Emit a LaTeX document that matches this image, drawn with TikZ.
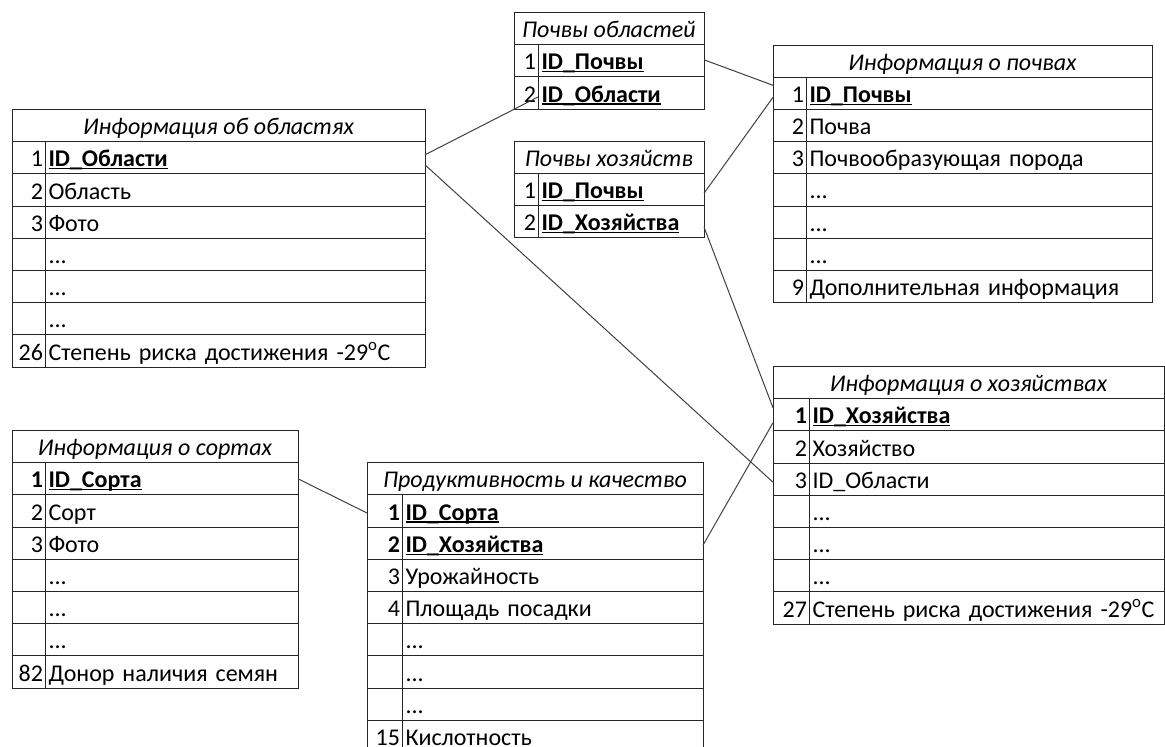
\documentclass[tikz,border=0pt]{standalone}
\usepackage{fontspec}
\setmainfont{Carlito}
\usepackage{tikz}
\newsavebox{\keybox}
\newcommand{\keyfld}[1]{\sbox{\keybox}{\textbf{#1}}\rlap{\rule[-2.6pt]{\wd\keybox}{1.3pt}}\usebox{\keybox}}

\begin{document}
\begin{tikzpicture}[x=1pt,y=-1pt]
	\tikzset{
		cell/.style={draw=black!85,line width=1pt,inner sep=0pt,outer sep=0pt,
			minimum height=32.2pt,text height=19pt,text depth=1pt,anchor=north west,
			font=\fontsize{24}{28}\selectfont},
		hd/.style={cell,minimum width=#1,font=\fontsize{24}{28}\selectfont\itshape},
		nm/.style={cell,text width=#1,align=right,inner xsep=2pt},
		fd/.style={cell,text width=#1,align=left,inner xsep=3.5pt},
		conn/.style={draw=black!75,line width=1pt}
	}
	\useasboundingbox (0,0) rectangle (1165,747);
	\clip (0,0) rectangle (1165,747);
	% Информация об областях
	\node[hd=413] (obl) at (12,109.5) {Информация об областях};
	\node[nm=29] (obl1n) at (12,141.7) {1};
	\node[fd=373] (obl1) at (45,141.7) {\keyfld{ID\_Области}};
	\node[nm=29] (obl2n) at (12,173.9) {2};
	\node[fd=373] (obl2) at (45,173.9) {Область};
	\node[nm=29] (obl3n) at (12,206.1) {3};
	\node[fd=373] (obl3) at (45,206.1) {Фото};
	\node[nm=29] (obl4n) at (12,238.3) {};
	\node[fd=373] (obl4) at (45,238.3) {...};
	\node[nm=29] (obl5n) at (12,270.5) {};
	\node[fd=373] (obl5) at (45,270.5) {...};
	\node[nm=29] (obl6n) at (12,302.7) {};
	\node[fd=373] (obl6) at (45,302.7) {...};
	\node[nm=29] (obl7n) at (12,334.9) {26};
	\node[fd=373] (obl7) at (45,334.9) {Степень риска достижения -29\textsuperscript{o}C};
	% Почвы областей
	\node[hd=190] (pobl) at (514,12.5) {Почвы областей};
	\node[nm=20] (pobl1n) at (514,44.7) {1};
	\node[fd=159] (pobl1) at (538,44.7) {\keyfld{ID\_Почвы}};
	\node[nm=20] (pobl2n) at (514,76.9) {2};
	\node[fd=159] (pobl2) at (538,76.9) {\keyfld{ID\_Области}};
	% Почвы хозяйств
	\node[hd=190] (phoz) at (514,141) {Почвы хозяйств};
	\node[nm=20] (phoz1n) at (514,173.2) {1};
	\node[fd=159] (phoz1) at (538,173.2) {\keyfld{ID\_Почвы}};
	\node[nm=20] (phoz2n) at (514,205.4) {2};
	\node[fd=159] (phoz2) at (538,205.4) {\keyfld{ID\_Хозяйства}};
	% Информация о почвах
	\node[hd=379] (poch) at (773,45) {Информация о почвах};
	\node[nm=29] (poch1n) at (773,77.2) {1};
	\node[fd=339] (poch1) at (806,77.2) {\keyfld{ID\_Почвы}};
	\node[nm=29] (poch2n) at (773,109.4) {2};
	\node[fd=339] (poch2) at (806,109.4) {Почва};
	\node[nm=29] (poch3n) at (773,141.6) {3};
	\node[fd=339] (poch3) at (806,141.6) {Почвообразующая порода};
	\node[nm=29] (poch4n) at (773,173.8) {};
	\node[fd=339] (poch4) at (806,173.8) {...};
	\node[nm=29] (poch5n) at (773,206) {};
	\node[fd=339] (poch5) at (806,206) {...};
	\node[nm=29] (poch6n) at (773,238.2) {};
	\node[fd=339] (poch6) at (806,238.2) {...};
	\node[nm=29] (poch7n) at (773,270.4) {9};
	\node[fd=339] (poch7) at (806,270.4) {Дополнительная информация};
	% Информация о хозяйствах
	\node[hd=391] (hoz) at (773,366.5) {Информация о хозяйствах};
	\node[nm=32] (hoz1n) at (773,398.7) {\textbf{1}};
	\node[fd=348] (hoz1) at (809,398.7) {\keyfld{ID\_Хозяйства}};
	\node[nm=32] (hoz2n) at (773,430.9) {2};
	\node[fd=348] (hoz2) at (809,430.9) {Хозяйство};
	\node[nm=32] (hoz3n) at (773,463.1) {3};
	\node[fd=348] (hoz3) at (809,463.1) {ID\_Области};
	\node[nm=32] (hoz4n) at (773,495.3) {};
	\node[fd=348] (hoz4) at (809,495.3) {...};
	\node[nm=32] (hoz5n) at (773,527.5) {};
	\node[fd=348] (hoz5) at (809,527.5) {...};
	\node[nm=32] (hoz6n) at (773,559.7) {};
	\node[fd=348] (hoz6) at (809,559.7) {...};
	\node[nm=32] (hoz7n) at (773,591.9) {27};
	\node[fd=348] (hoz7) at (809,591.9) {Степень риска достижения -29\textsuperscript{o}C};
	% Информация о сортах
	\node[hd=286] (sort) at (12,430.5) {Информация о сортах};
	\node[nm=29] (sort1n) at (12,462.7) {\textbf{1}};
	\node[fd=246] (sort1) at (45,462.7) {\keyfld{ID\_Сорта}};
	\node[nm=29] (sort2n) at (12,494.9) {2};
	\node[fd=246] (sort2) at (45,494.9) {Сорт};
	\node[nm=29] (sort3n) at (12,527.1) {3};
	\node[fd=246] (sort3) at (45,527.1) {Фото};
	\node[nm=29] (sort4n) at (12,559.3) {};
	\node[fd=246] (sort4) at (45,559.3) {...};
	\node[nm=29] (sort5n) at (12,591.5) {};
	\node[fd=246] (sort5) at (45,591.5) {...};
	\node[nm=29] (sort6n) at (12,623.7) {};
	\node[fd=246] (sort6) at (45,623.7) {...};
	\node[nm=29] (sort7n) at (12,655.9) {82};
	\node[fd=246] (sort7) at (45,655.9) {Донор наличия семян};
	% Продуктивность и качество
	\node[hd=336] (prod) at (367,462.7) {Продуктивность и качество};
	\node[nm=31] (prod1n) at (367,494.9) {\textbf{1}};
	\node[fd=294] (prod1) at (402,494.9) {\keyfld{ID\_Сорта}};
	\node[nm=31] (prod2n) at (367,527.1) {\textbf{2}};
	\node[fd=294] (prod2) at (402,527.1) {\keyfld{ID\_Хозяйства}};
	\node[nm=31] (prod3n) at (367,559.3) {3};
	\node[fd=294] (prod3) at (402,559.3) {Урожайность};
	\node[nm=31] (prod4n) at (367,591.5) {4};
	\node[fd=294] (prod4) at (402,591.5) {Площадь посадки};
	\node[nm=31] (prod5n) at (367,623.7) {};
	\node[fd=294] (prod5) at (402,623.7) {...};
	\node[nm=31] (prod6n) at (367,655.9) {};
	\node[fd=294] (prod6) at (402,655.9) {...};
	\node[nm=31] (prod7n) at (367,688.1) {};
	\node[fd=294] (prod7) at (402,688.1) {...};
	\node[nm=31] (prod8n) at (367,720.3) {15};
	\node[fd=294] (prod8) at (402,720.3) {Кислотность};
	% связи
	\path[conn]
		([yshift=3]obl1.east) edge ([yshift=-4]pobl2.west)
		([yshift=-7]obl1.east) edge ([yshift=-3]hoz3n.west)
		([yshift=1]pobl1.east) edge ([yshift=8]poch1n.west)
		([yshift=-4]phoz1.east) edge ([yshift=-4]poch1n.west)
		([yshift=-5.5]phoz2.east) edge ([yshift=7]hoz1n.west)
		(sort1.east) edge ([yshift=-2]prod1n.west)
		([yshift=-2]prod2.east) edge ([yshift=-8]hoz1n.west);
\end{tikzpicture}
\end{document}
